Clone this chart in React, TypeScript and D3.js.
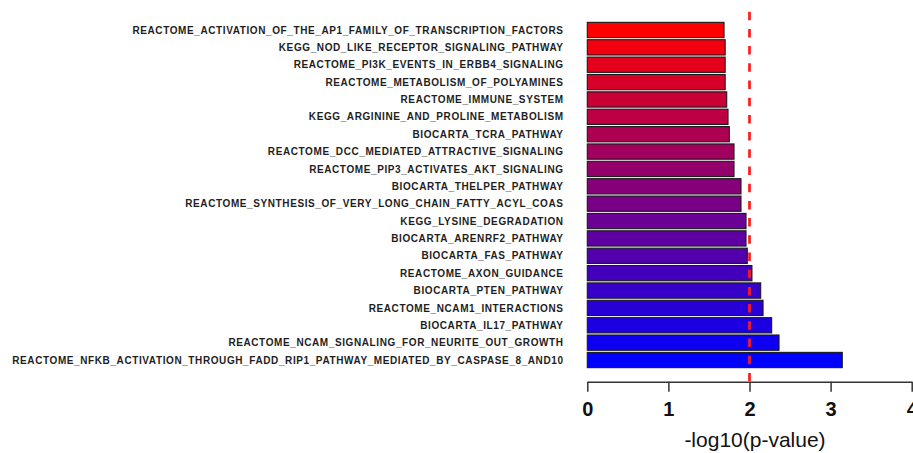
import React, { useEffect, useRef } from "react";
import * as d3 from "d3";

const pathways = [
  "REACTOME_ACTIVATION_OF_THE_AP1_FAMILY_OF_TRANSCRIPTION_FACTORS",
  "KEGG_NOD_LIKE_RECEPTOR_SIGNALING_PATHWAY",
  "REACTOME_PI3K_EVENTS_IN_ERBB4_SIGNALING",
  "REACTOME_METABOLISM_OF_POLYAMINES",
  "REACTOME_IMMUNE_SYSTEM",
  "KEGG_ARGININE_AND_PROLINE_METABOLISM",
  "BIOCARTA_TCRA_PATHWAY",
  "REACTOME_DCC_MEDIATED_ATTRACTIVE_SIGNALING",
  "REACTOME_PIP3_ACTIVATES_AKT_SIGNALING",
  "BIOCARTA_THELPER_PATHWAY",
  "REACTOME_SYNTHESIS_OF_VERY_LONG_CHAIN_FATTY_ACYL_COAS",
  "KEGG_LYSINE_DEGRADATION",
  "BIOCARTA_ARENRF2_PATHWAY",
  "BIOCARTA_FAS_PATHWAY",
  "REACTOME_AXON_GUIDANCE",
  "BIOCARTA_PTEN_PATHWAY",
  "REACTOME_NCAM1_INTERACTIONS",
  "BIOCARTA_IL17_PATHWAY",
  "REACTOME_NCAM_SIGNALING_FOR_NEURITE_OUT_GROWTH",
  "REACTOME_NFKB_ACTIVATION_THROUGH_FADD_RIP1_PATHWAY_MEDIATED_BY_CASPASE_8_AND10",
];

// -log10(p-value) for each pathway
const scores = [
  1.686, 1.70, 1.70, 1.70, 1.719, 1.735, 1.751, 1.809, 1.809, 1.895,
  1.895, 1.957, 1.957, 1.973, 2.03, 2.138, 2.167, 2.273, 2.364, 3.144,
];

const xTicks = [0, 1, 2, 3, 4];
const cutoff = 2; // p = 0.01
const xTitle = "-log10(p-value)";

export default function App() {
  const ref = useRef<SVGSVGElement>(null);

  useEffect(() => {
    const svg = d3.select(ref.current);
    svg.selectAll("*").remove();

    const x = d3.scaleLinear().domain([0, 4]).range([587.3, 911.7]);
    const y = d3.scaleBand<string>().domain(pathways).range([21.3, 368.7]).paddingInner(0.12).paddingOuter(0.06);
    const color = d3.interpolateRgb("#ff0000", "#0000ff");

    // bars
    svg.append("g").selectAll("rect").data(pathways).join("rect")
      .attr("x", x(0))
      .attr("y", d => y(d)!)
      .attr("width", (d, i) => x(scores[i]) - x(0))
      .attr("height", y.bandwidth())
      .attr("fill", (d, i) => color(i / (pathways.length - 1)))
      .attr("stroke", "#1a1a1a")
      .attr("stroke-width", 1.1);

    // pathway names (R's text is spaced a bit wider)
    svg.append("g").selectAll("text").data(pathways).join("text")
      .attr("x", 563.6)
      .attr("y", d => y(d)! + y.bandwidth() / 2)
      .attr("dy", "0.36em")
      .attr("text-anchor", "end")
      .attr("font-family", "Arial, 'Liberation Sans', sans-serif")
      .attr("font-weight", "bold")
      .attr("font-size", 10)
      .attr("letter-spacing", 0.6)
      .attr("fill", "#1e1e1e")
      .text(d => d);

    // significance line
    svg.append("line")
      .attr("x1", x(cutoff)).attr("x2", x(cutoff))
      .attr("y1", 11.7).attr("y2", 381)
      .attr("stroke", "#ff1a1a")
      .attr("stroke-width", 2.7)
      .attr("stroke-dasharray", "8.5,8.7");

    // x axis
    const axis = svg.append("g").attr("transform", "translate(0,381.7)")
      .call(d3.axisBottom(x).tickValues(xTicks).tickFormat(d3.format("d")).tickSize(10).tickSizeOuter(0).tickPadding(10));
    axis.select(".domain").attr("stroke", "#333").attr("stroke-width", 1.5);
    axis.selectAll(".tick line").attr("stroke", "#333").attr("stroke-width", 1.5);
    axis.selectAll(".tick text")
      .attr("font-family", "Arial, 'Liberation Sans', sans-serif")
      .attr("font-weight", "bold")
      .attr("font-size", 20)
      .attr("fill", "#111");

    svg.append("text")
      .attr("x", 755)
      .attr("y", 446.5)
      .attr("text-anchor", "middle")
      .attr("font-family", "Arial, 'Liberation Sans', sans-serif")
      .attr("font-size", 21)
      .attr("fill", "#111")
      .text(xTitle);
  }, []);

  return (
    <svg ref={ref} width={913} height={453} style={{ position: "absolute", left: 0, top: 0, background: "#fff" }} />
  );
}
